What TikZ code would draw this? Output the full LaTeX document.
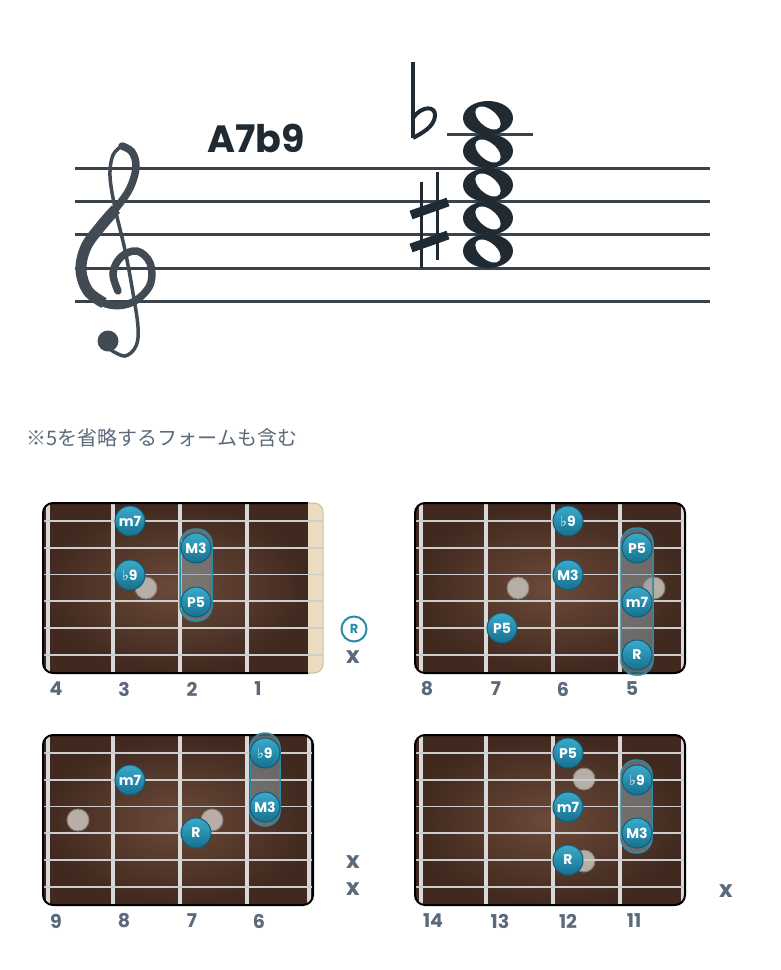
\documentclass[tikz,border=0pt]{standalone}
\usepackage{fontspec}
\usepackage{tikz}
\newfontfamily\popfont{Poppins}
\newfontfamily\jpfont{Noto Sans CJK JP}
\newfontfamily\musfont{DejaVu Sans}

\definecolor{staffcol}{HTML}{3A434B}
\definecolor{clefcol}{HTML}{424B53}
\definecolor{notecol}{HTML}{1F2A33}
\definecolor{labelcol}{HTML}{5B6A7B}
\definecolor{woodin}{HTML}{6B4A39}
\definecolor{woodout}{HTML}{41291F}
\definecolor{nutcol}{HTML}{EBDCC0}
\definecolor{nutedge}{HTML}{C9B99C}
\definecolor{wirecol}{HTML}{D9D9D9}
\definecolor{stringcol}{HTML}{CDCDCD}
\definecolor{toneA}{HTML}{3CAACB}
\definecolor{toneB}{HTML}{16708F}
\definecolor{toneedge}{HTML}{125C75}
\definecolor{rootcol}{HTML}{2A8BAA}
\definecolor{inlaycol}{HTML}{B8AEA8}
\definecolor{inlayedge}{HTML}{857A74}
\definecolor{barrecol}{HTML}{8C9CA2}

\newcommand{\flatsym}{{\musfont\mdseries\fontsize{14}{14}\selectfont ♭}}

\begin{document}
\begin{tikzpicture}[x=1pt, y=-1pt,
  tone/.style={circle, minimum size=30pt, inner sep=0pt, top color=toneA,
    bottom color=toneB, draw=toneedge, line width=1pt, text=white,
    font=\popfont\bfseries\fontsize{14}{14}\selectfont},
  inlay/.style={fill=inlaycol, draw=inlayedge, line width=1pt},
  barre/.style={rounded corners=15pt, fill=barrecol, fill opacity=0.55,
    draw=rootcol, line width=1.5pt},
  fretwire/.style={wirecol, line width=3.5pt},
  fretno/.style={text=labelcol, font=\popfont\bfseries\fontsize{19}{19}\selectfont},
  mute/.style={text=labelcol, font=\popfont\bfseries\fontsize{23}{23}\selectfont},
  openroot/.style={circle, minimum size=25pt, inner sep=0pt, draw=rootcol,
    line width=2pt, text=rootcol, font=\popfont\bfseries\fontsize{13}{13}\selectfont},
  staffline/.style={staffcol, line width=3pt}]

  \useasboundingbox[fill=white] (0,0) rectangle (780,970);

  % staff
  \foreach \y in {168, 201, 234.5, 268, 301}
    \draw[staffline] (75,\y) -- (710,\y);
  \draw[staffcol, line width=2.5pt] (447,134.5) -- (533,134.5);

  % treble clef
  \draw[clefcol, line width=7.5pt, line cap=round] plot[smooth, tension=0.6] coordinates
    {(118,291) (113,273) (121,257) (137,251) (150,263) (150,285) (133,302) (110,305)
     (89,293) (80,270) (85,247) (100,226) (117,207) (130,188) (136,167) (132,152) (122,146)};
  \draw[clefcol, line width=11pt] plot[smooth, tension=0.6] coordinates
    {(104,303) (88,291) (81,270) (86,247) (101,226) (116,209)};
  \draw[clefcol, line width=3.5pt, line cap=round] plot[smooth, tension=0.6] coordinates
    {(122,146) (113,155) (110,176) (115,208) (125,250) (133,293) (138,327) (136,346)
     (125,356) (111,350)};
  \fill[clefcol] (108,341) circle [radius=10.5];

  \node[text=notecol, font=\popfont\bfseries\fontsize{38}{38}\selectfont] (chordname)
    at (256,138) {A7b9};

  % flat and sharp
  \draw[notecol, line width=4pt] (413,62) -- (413,138);
  \draw[notecol, line width=4pt, line join=round] (413,118) .. controls (421,106)
    and (436,105) .. (435,116) .. controls (434,127) and (422,133) .. (413,138);
  \draw[notecol, line width=3pt] (421,182) -- (421,268);
  \draw[notecol, line width=3pt] (437,172) -- (437,260);
  \draw[notecol, line width=9pt] (411,215) -- (448,202);
  \draw[notecol, line width=9pt] (411,248) -- (448,235);

  % whole notes
  \foreach \y in {118, 151, 185, 218, 251}
    \fill[notecol, even odd rule] (488,\y) ellipse [x radius=25, y radius=17]
      {[rotate around={-40:(488,\y)}] (488,\y) ellipse [x radius=15, y radius=8.5]};

  \node[anchor=west, text=labelcol, font=\jpfont\fontsize{20}{20}\selectfont] (note)
    at (23,438) {※5を省略するフォームも含む};

  % board 1 (frets 4-1)
  \begin{scope}
    \clip[rounded corners=10pt] (43,503) rectangle (323,673);
    \shade[inner color=woodin, outer color=woodout] (43,503) rectangle (308,673);
    \fill[nutcol] (308,503) rectangle (323,673);
    \foreach \x in {48, 113, 180, 247}
      \draw[fretwire] (\x,503) -- (\x,673);
    \draw[inlay] (146,588) circle [radius=11];
    \foreach \y/\w in {521/1.2, 547.8/1.4, 574.6/1.7, 601.4/2, 628.2/2.4, 655/2.8}
      \draw[stringcol, line width=\w pt] (43,\y) -- (323,\y);
  \end{scope}
  \draw[black, line width=2pt, rounded corners=10pt] (308,503) -- (43,503) -- (43,673) -- (308,673);
  \draw[nutedge, line width=1pt, rounded corners=9pt] (308,503) -- (323,503) -- (323,673) -- (308,673);
  \draw[barre] (180,529) rectangle (212,621);
  \node[tone] (b1m7) at (130,521) {m7};
  \node[tone] (b1M3) at (196,548) {M3};
  \node[tone] (b1b9) at (130,575) {\flatsym9};
  \node[tone] (b1P5) at (196,602) {P5};
  \node[openroot] (b1R) at (354,629) {R};
  \node[mute] (b1x) at (353,657) {x};
  \node[fretno] (b1f4) at (56,689) {4};
  \node[fretno] (b1f3) at (124,689) {3};
  \node[fretno] (b1f2) at (192,689) {2};
  \node[fretno] (b1f1) at (258,689) {1};

  % board 2 (frets 8-5)
  \begin{scope}
    \clip[rounded corners=10pt] (415,503) rectangle (685,673);
    \shade[inner color=woodin, outer color=woodout] (415,503) rectangle (685,673);
    \foreach \x in {421, 486, 553, 620, 683}
      \draw[fretwire] (\x,503) -- (\x,673);
    \draw[inlay] (518,588) circle [radius=11];
    \draw[inlay] (654,588) circle [radius=11];
    \foreach \y/\w in {521/1.2, 547.8/1.4, 574.6/1.7, 601.4/2, 628.2/2.4, 655/2.8}
      \draw[stringcol, line width=\w pt] (415,\y) -- (685,\y);
  \end{scope}
  \draw[black, line width=2pt, rounded corners=10pt] (415,503) rectangle (685,673);
  \draw[barre] (621,528) rectangle (653,675);
  \node[tone] (b2b9) at (568,521) {\flatsym9};
  \node[tone] (b2P5a) at (637,548) {P5};
  \node[tone] (b2M3) at (568,575) {M3};
  \node[tone] (b2m7) at (637,602) {m7};
  \node[tone] (b2P5b) at (502,628) {P5};
  \node[tone] (b2R) at (637,655) {R};
  \node[fretno] (b2f8) at (427,689) {8};
  \node[fretno] (b2f7) at (496,689) {7};
  \node[fretno] (b2f6) at (563,689) {6};
  \node[fretno] (b2f5) at (632,689) {5};

  % board 3 (frets 9-6)
  \begin{scope}
    \clip[rounded corners=10pt] (43,735) rectangle (313,905);
    \shade[inner color=woodin, outer color=woodout] (43,735) rectangle (313,905);
    \foreach \x in {48, 113, 180, 247, 309}
      \draw[fretwire] (\x,735) -- (\x,905);
    \draw[inlay] (78,820) circle [radius=11];
    \draw[inlay] (212,820) circle [radius=11];
    \foreach \y/\w in {753/1.2, 779.8/1.4, 806.6/1.7, 833.4/2, 860.2/2.4, 887/2.8}
      \draw[stringcol, line width=\w pt] (43,\y) -- (313,\y);
  \end{scope}
  \draw[black, line width=2pt, rounded corners=10pt] (43,735) rectangle (313,905);
  \draw[barre] (250,733) rectangle (280,826);
  \node[tone] (b3b9) at (265,753) {\flatsym9};
  \node[tone] (b3m7) at (130,780) {m7};
  \node[tone] (b3M3) at (265,807) {M3};
  \node[tone] (b3R) at (196,833) {R};
  \node[mute] (b3x5) at (353,862) {x};
  \node[mute] (b3x6) at (353,889) {x};
  \node[fretno] (b3f9) at (56,921) {9};
  \node[fretno] (b3f8) at (124,921) {8};
  \node[fretno] (b3f7) at (192,921) {7};
  \node[fretno] (b3f6) at (259,921) {6};

  % board 4 (frets 14-11)
  \begin{scope}
    \clip[rounded corners=10pt] (415,735) rectangle (685,905);
    \shade[inner color=woodin, outer color=woodout] (415,735) rectangle (685,905);
    \foreach \x in {421, 486, 553, 620, 683}
      \draw[fretwire] (\x,735) -- (\x,905);
    \draw[inlay] (584,779) circle [radius=11];
    \draw[inlay] (584,861) circle [radius=11];
    \foreach \y/\w in {753/1.2, 779.8/1.4, 806.6/1.7, 833.4/2, 860.2/2.4, 887/2.8}
      \draw[stringcol, line width=\w pt] (415,\y) -- (685,\y);
  \end{scope}
  \draw[black, line width=2pt, rounded corners=10pt] (415,735) rectangle (685,905);
  \draw[barre] (621,760) rectangle (652,853);
  \node[tone] (b4P5) at (568,753) {P5};
  \node[tone] (b4b9) at (637,780) {\flatsym9};
  \node[tone] (b4m7) at (568,807) {m7};
  \node[tone] (b4M3) at (637,833) {M3};
  \node[tone] (b4R) at (568,860) {R};
  \node[mute] (b4x) at (726,891) {x};
  \node[fretno] (b4f14) at (433,921) {14};
  \node[fretno] (b4f13) at (500,921) {13};
  \node[fretno] (b4f12) at (568,921) {12};
  \node[fretno] (b4f11) at (634,921) {11};
\end{tikzpicture}
\end{document}
